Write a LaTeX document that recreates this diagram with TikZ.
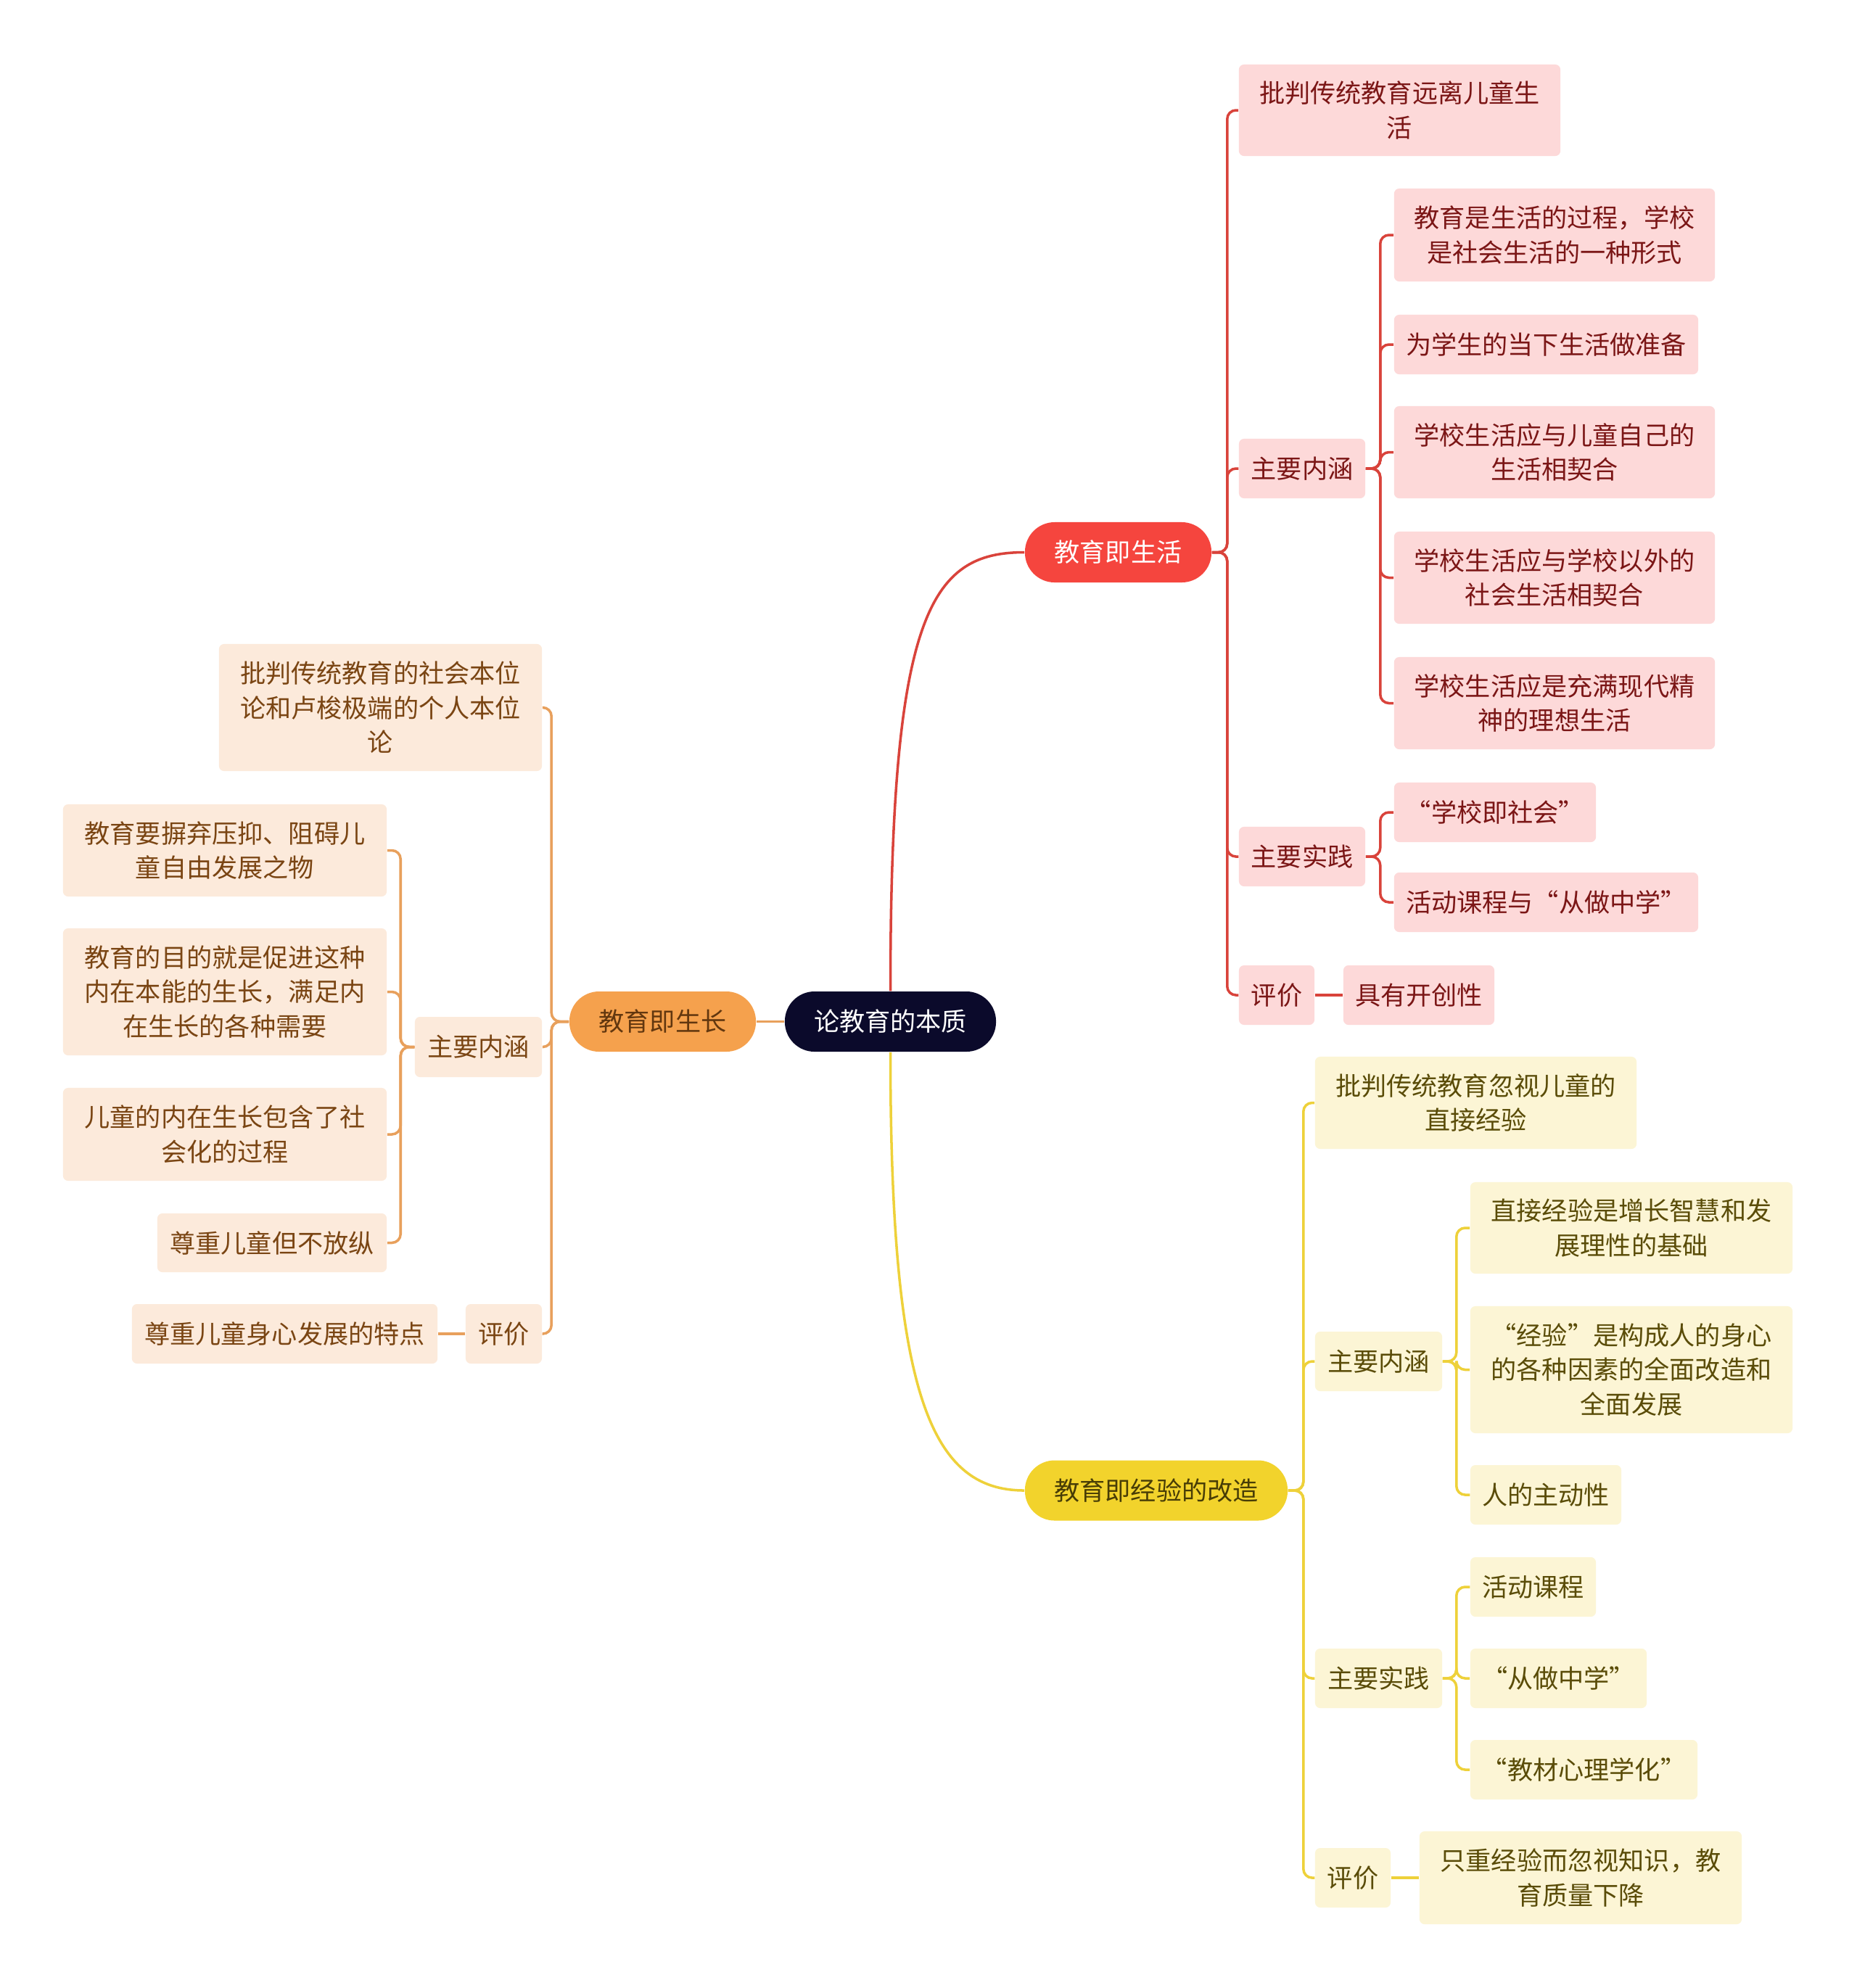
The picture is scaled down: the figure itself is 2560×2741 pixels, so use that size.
\documentclass[tikz,border=0pt]{standalone}
\usepackage{fontspec}
\setmainfont{Noto Sans CJK SC}
\usepackage{tikz}

\definecolor{rootc}{HTML}{0B0A2B}
\definecolor{lifec}{HTML}{F5453E}
\definecolor{lifefill}{HTML}{FDD9D9}
\definecolor{lifetext}{HTML}{7B1616}
\definecolor{lifeline}{HTML}{D9433B}
\definecolor{growc}{HTML}{F5A14D}
\definecolor{growfill}{HTML}{FCEADB}
\definecolor{growtext}{HTML}{7A4513}
\definecolor{growline}{HTML}{E8A05C}
\definecolor{expc}{HTML}{F2D32C}
\definecolor{expfill}{HTML}{FCF5D5}
\definecolor{exptext}{HTML}{5A4C08}
\definecolor{expline}{HTML}{EED13A}

\begin{document}
\begin{tikzpicture}[x=0.01cm,y=-0.01cm,
	every node/.style={font=\fontsize{10pt}{13.5pt}\selectfont,align=center,inner sep=0pt},
	wh/.style 2 args={minimum width=#1cm,minimum height=#2cm},
	rootbox/.style={fill=rootc,text=white,rounded corners=4.1mm,wh={2.91}{0.83}},
	lifebox/.style={fill=lifec,text=white,rounded corners=4.1mm,wh={2.57}{0.83}},
	growbox/.style={fill=growc,text=growtext!80!black,rounded corners=4.1mm,wh={2.57}{0.83}},
	expbox/.style={fill=expc,text=exptext!80!black,rounded corners=4.1mm,wh={3.62}{0.83}},
	lifesub/.style={fill=lifefill,text=lifetext,rounded corners=0.7mm},
	growsub/.style={fill=growfill,text=growtext,rounded corners=0.7mm},
	expsub/.style={fill=expfill,text=exptext,rounded corners=0.7mm},
	lifelink/.style={draw=lifeline,line width=1pt,rounded corners=1.2mm},
	growlink/.style={draw=growline,line width=1pt,rounded corners=1.2mm},
	explink/.style={draw=expline,line width=1pt,rounded corners=1.2mm}]
	\fill[white] (0,0) rectangle (2560,2741);
	\useasboundingbox (0,0) rectangle (2560,2741);

	% centre and branches
	\node[rootbox] (root) at (1227.5,1408.5) {论教育的本质};
	\node[lifebox] (life) at (1541.5,761.5) {教育即生活};
	\node[growbox] (grow) at (913.5,1408.5) {教育即生长};
	\node[expbox] (exp) at (1594,2055) {教育即经验的改造};

	\draw[lifeline,line width=1pt] (root.north) .. controls +(0,-520) and +(-130,0) .. (life.west);
	\draw[expline,line width=1pt] (root.south) .. controls +(0,470) and +(-130,0) .. (exp.west);
	\draw[growline,line width=1pt] (root.west) -- (grow.east);

	% 教育即生活
	\node[lifesub,wh={4.43}{1.26}] (lcrit) at (1929.5,152) {批判传统教育远离儿童生\\活};
	\node[lifesub,wh={1.74}{0.82}] (lmean) at (1795,646) {主要内涵};
	\node[lifesub,wh={1.74}{0.82}] (lprac) at (1795,1181) {主要实践};
	\node[lifesub,wh={1.04}{0.82}] (leval) at (1760,1372) {评价};
	\node[lifesub,wh={2.08}{0.82}] (lnew) at (1956,1372) {具有开创性};
	\node[lifesub,wh={4.42}{1.28}] (lm1) at (2143,324) {教育是生活的过程，学校\\是社会生活的一种形式};
	\node[lifesub,wh={4.19}{0.82}] (lm2) at (2131.5,475) {为学生的当下生活做准备};
	\node[lifesub,wh={4.42}{1.27}] (lm3) at (2143,623.5) {学校生活应与儿童自己的\\生活相契合};
	\node[lifesub,wh={4.42}{1.27}] (lm4) at (2143,796.5) {学校生活应与学校以外的\\社会生活相契合};
	\node[lifesub,wh={4.42}{1.27}] (lm5) at (2143,969.5) {学校生活应是充满现代精\\神的理想生活};
	\node[lifesub,wh={2.78}{0.82}] (lp1) at (2061,1120) {“学校即社会”};
	\node[lifesub,wh={4.19}{0.82}] (lp2) at (2131.5,1244) {活动课程与“从做中学”};

	\foreach \n in {lcrit,lmean,lprac,leval}
		\draw[lifelink] (life.east) -- ++(21,0) |- (\n.west);
	\foreach \n in {lm1,lm2,lm3,lm4,lm5}
		\draw[lifelink] (lmean.east) -- ++(20,0) |- (\n.west);
	\foreach \n in {lp1,lp2}
		\draw[lifelink] (lprac.east) -- ++(20,0) |- (\n.west);
	\draw[lifelink] (leval.east) -- (lnew.west);

	% 教育即生长
	\node[growsub,wh={4.45}{1.75}] (gcrit) at (524.5,975.5) {批判传统教育的社会本位\\论和卢梭极端的个人本位\\论};
	\node[growsub,wh={1.75}{0.83}] (gmean) at (659.5,1443.5) {主要内涵};
	\node[growsub,wh={1.05}{0.82}] (geval) at (694.5,1839) {评价};
	\node[growsub,wh={4.21}{0.82}] (gres) at (392.5,1839) {尊重儿童身心发展的特点};
	\node[growsub,wh={4.46}{1.27}] (gm1) at (310,1172.5) {教育要摒弃压抑、阻碍儿\\童自由发展之物};
	\node[growsub,wh={4.46}{1.75}] (gm2) at (310,1367.5) {教育的目的就是促进这种\\内在本能的生长，满足内\\在生长的各种需要};
	\node[growsub,wh={4.46}{1.28}] (gm3) at (310,1564) {儿童的内在生长包含了社\\会化的过程};
	\node[growsub,wh={3.16}{0.81}] (gm4) at (375,1713.5) {尊重儿童但不放纵};

	\foreach \n in {gcrit,gmean,geval}
		\draw[growlink] (grow.west) -- ++(-24,0) |- (\n.east);
	\foreach \n in {gm1,gm2,gm3,gm4}
		\draw[growlink] (gmean.west) -- ++(-19,0) |- (\n.east);
	\draw[growlink] (geval.west) -- (gres.east);

	% 教育即经验的改造
	\node[expsub,wh={4.43}{1.27}] (ecrit) at (2034.5,1520.5) {批判传统教育忽视儿童的\\直接经验};
	\node[expsub,wh={1.75}{0.82}] (emean) at (1900.5,1877) {主要内涵};
	\node[expsub,wh={1.75}{0.82}] (eprac) at (1900.5,2314) {主要实践};
	\node[expsub,wh={1.04}{0.82}] (eeval) at (1865,2589) {评价};
	\node[expsub,wh={4.44}{1.28}] (eres) at (2179,2589) {只重经验而忽视知识，教\\育质量下降};
	\node[expsub,wh={4.44}{1.26}] (em1) at (2249,1693) {直接经验是增长智慧和发\\展理性的基础};
	\node[expsub,wh={4.44}{1.75}] (em2) at (2249,1888.5) {“经验”是构成人的身心\\的各种因素的全面改造和\\全面发展};
	\node[expsub,wh={2.08}{0.82}] (em3) at (2131,2061) {人的主动性};
	\node[expsub,wh={1.73}{0.82}] (ep1) at (2113.5,2188) {活动课程};
	\node[expsub,wh={2.43}{0.82}] (ep2) at (2148.5,2314) {“从做中学”};
	\node[expsub,wh={3.13}{0.82}] (ep3) at (2183.5,2440) {“教材心理学化”};

	\foreach \n in {ecrit,emean,eprac,eeval}
		\draw[explink] (exp.east) -- ++(21,0) |- (\n.west);
	\foreach \n in {em1,em2,em3}
		\draw[explink] (emean.east) -- ++(19,0) |- (\n.west);
	\foreach \n in {ep1,ep2,ep3}
		\draw[explink] (eprac.east) -- ++(19,0) |- (\n.west);
	\draw[explink] (eeval.east) -- (eres.west);
\end{tikzpicture}
\end{document}
